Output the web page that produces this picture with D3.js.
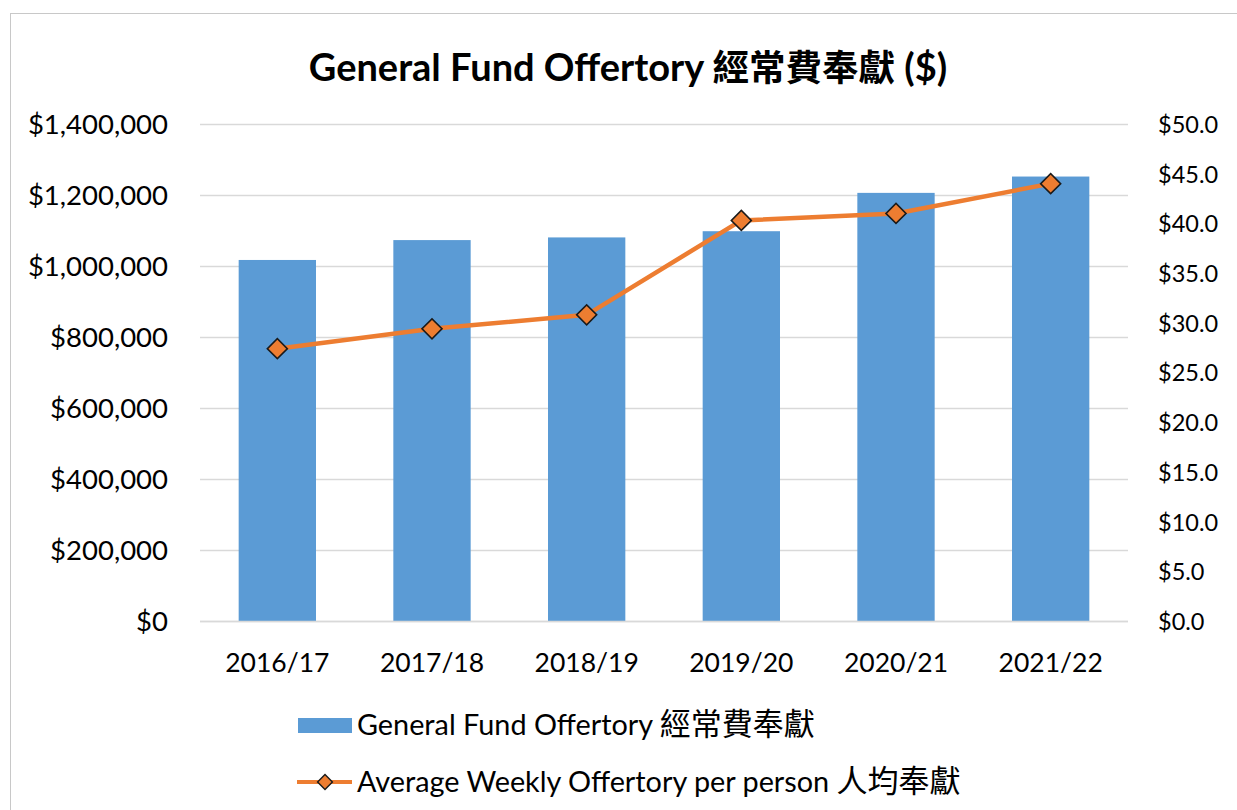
<!DOCTYPE html>
<html>
<head>
<meta charset="utf-8">
<script src="https://cdn.jsdelivr.net/npm/d3@7"></script>
<style>
  html, body { margin: 0; padding: 0; background: #fff; }
  svg { display: block; }
  text { font-family: Lato, "Noto Sans CJK TC", sans-serif; fill: #000; }
</style>
</head>
<body>
<svg id="chart" width="1237" height="810"></svg>
<script>
const categories = ["2016/17", "2017/18", "2018/19", "2019/20", "2020/21", "2021/22"];
const fundValues = [1017000, 1073000, 1080500, 1098000, 1206000, 1252000];
const weeklyValues = [27.4, 29.4, 30.8, 40.3, 41.0, 44.0];
const leftTicks = [0, 200000, 400000, 600000, 800000, 1000000, 1200000, 1400000];
const rightTicks = [0, 5, 10, 15, 20, 25, 30, 35, 40, 45, 50];
const titleLatin = "General Fund Offertory ";
const titleCJK = "經常費奉獻";
const titleTail = " ($)";
const legendBarLatin = "General Fund Offertory ";
const legendBarCJK = "經常費奉獻";
const legendLineLatin = "Average Weekly Offertory per person ";
const legendLineCJK = "人均奉獻";

const svg = d3.select("#chart");
const W = 1237, H = 810;
const plot = { left: 200, right: 1128, top: 124, bottom: 621 };

// chart border
svg.append("rect").attr("x", 10.5).attr("y", 13.5).attr("width", W + 20).attr("height", H + 20)
  .attr("fill", "#fff").attr("stroke", "#c8c8c8").attr("stroke-width", 1);

const x = d3.scaleBand().domain(categories).range([plot.left, plot.right]).paddingInner(0.5).paddingOuter(0.25);
const yL = d3.scaleLinear().domain([0, 1400000]).range([plot.bottom, plot.top]);
const yR = d3.scaleLinear().domain([0, 50]).range([plot.bottom, plot.top]);

// gridlines
svg.append("g").selectAll("line").data(leftTicks).join("line")
  .attr("x1", plot.left).attr("x2", plot.right)
  .attr("y1", d => yL(d) + 0.5).attr("y2", d => yL(d) + 0.5)
  .attr("stroke", "#d9d9d9").attr("stroke-width", 1.3);

// left axis
const fmtL = d => "$" + d3.format(",")(d);
const gL = svg.append("g").attr("transform", `translate(${168},0)`)
  .call(d3.axisLeft(yL).tickValues(leftTicks).tickSize(0).tickPadding(0).tickFormat(fmtL));
gL.select(".domain").remove();
gL.selectAll("text").style("font-size", "27.5px").style("font-family", "Lato, sans-serif").attr("dy", "0.36em");

// right axis
const fmtR = d => "$" + d3.format(".1f")(d);
const gR = svg.append("g").attr("transform", `translate(${1158},0)`)
  .call(d3.axisRight(yR).tickValues(rightTicks).tickSize(0).tickPadding(0).tickFormat(fmtR));
gR.select(".domain").remove();
gR.selectAll("text").style("font-size", "23.5px").style("font-family", "Lato, sans-serif").attr("dy", "0.36em");

// x axis labels
const gX = svg.append("g").attr("transform", `translate(0,${plot.bottom})`)
  .call(d3.axisBottom(x).tickSize(0).tickPadding(0));
gX.select(".domain").remove();
gX.selectAll("text").style("font-size", "26.5px").style("font-family", "Lato, sans-serif").attr("y", 51).attr("dy", 0);

// bars
svg.append("g").selectAll("rect").data(categories).join("rect")
  .attr("x", d => x(d)).attr("width", x.bandwidth())
  .attr("y", (d, i) => yL(fundValues[i]))
  .attr("height", (d, i) => yL(0) - yL(fundValues[i]))
  .attr("fill", "#5b9bd5");

// bottom axis line
svg.append("line").attr("x1", plot.left).attr("x2", plot.right)
  .attr("y1", yL(0) + 0.5).attr("y2", yL(0) + 0.5).attr("stroke", "#d9d9d9").attr("stroke-width", 1.3);

// line series
const line = d3.line().x((d, i) => x(categories[i]) + x.bandwidth() / 2).y(d => yR(d));
svg.append("path").datum(weeklyValues).attr("d", line)
  .attr("fill", "none").attr("stroke", "#ed7d31").attr("stroke-width", 4.5).attr("stroke-linejoin", "round");

const diamond = d3.symbol().type(d3.symbolSquare).size(200);
svg.append("g").selectAll("path").data(weeklyValues).join("path")
  .attr("d", diamond)
  .attr("transform", (d, i) => `translate(${x(categories[i]) + x.bandwidth() / 2},${yR(d)}) rotate(45)`)
  .attr("fill", "#ed7d31").attr("stroke", "#1a1a1a").attr("stroke-width", 1.6);

// title
const t = svg.append("text").attr("x", 628).attr("y", 81).attr("text-anchor", "middle")
  .style("font-size", "38px").style("font-weight", "bold");
t.append("tspan").text(titleLatin);
t.append("tspan").style("font-size", "36.5px").text(titleCJK);
t.append("tspan").text(titleTail);

// legend
svg.append("rect").attr("x", 298).attr("y", 718).attr("width", 54).attr("height", 15).attr("fill", "#5b9bd5");
const l1 = svg.append("text").attr("x", 357).attr("y", 735).style("font-size", "28.8px");
l1.append("tspan").text(legendBarLatin);
l1.append("tspan").style("font-size", "31px").text(legendBarCJK);

svg.append("line").attr("x1", 297).attr("x2", 352).attr("y1", 782).attr("y2", 782)
  .attr("stroke", "#ed7d31").attr("stroke-width", 4);
svg.append("path").attr("d", d3.symbol().type(d3.symbolSquare).size(110)())
  .attr("transform", "translate(325,782) rotate(45)")
  .attr("fill", "#ed7d31").attr("stroke", "#1a1a1a").attr("stroke-width", 1.4);
const l2 = svg.append("text").attr("x", 357).attr("y", 792).style("font-size", "28.8px");
l2.append("tspan").text(legendLineLatin);
l2.append("tspan").style("font-size", "31px").text(legendLineCJK);
</script>
</body>
</html>
